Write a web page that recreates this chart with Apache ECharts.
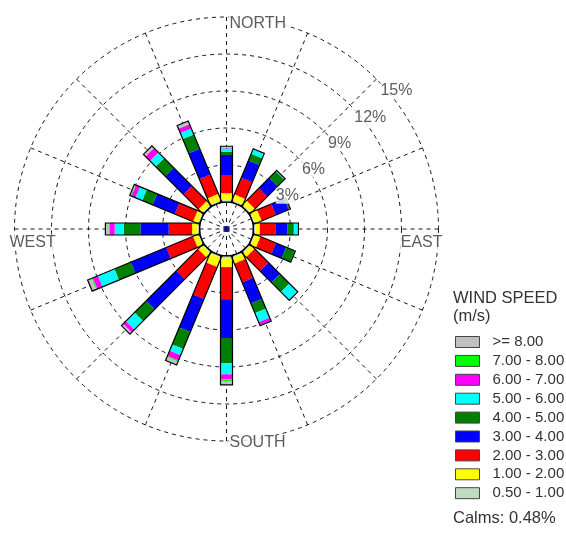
<!DOCTYPE html>
<html>
<head>
<meta charset="utf-8">
<script src="https://cdn.jsdelivr.net/npm/echarts@6/dist/echarts.min.js"></script>
<style>
  html, body { margin: 0; padding: 0; background: #fff; }
  #chart { width: 566px; height: 543px; }
</style>
</head>
<body>
<div id="chart"></div>
<script>
// Wind rose: frequency (%) of each speed class for 16 compass directions
const directions = ['N', 'NNE', 'NE', 'ENE', 'E', 'ESE', 'SE', 'SSE',
                    'S', 'SSW', 'SW', 'WSW', 'W', 'WNW', 'NW', 'NNW'];
const directionAngles = [0, 22.5, 45, 67.5, 90, 112.5, 135, 157.5,
                         180, 202.5, 225, 247.5, 270, 292.5, 315, 337.5];

const speedClasses = ['0.50 - 1.00', '1.00 - 2.00', '2.00 - 3.00', '3.00 - 4.00',
                      '4.00 - 5.00', '5.00 - 6.00', '6.00 - 7.00', '7.00 - 8.00', '>= 8.00'];
const classColors = ['#c0dcc0', '#ffff00', '#ff0000', '#0000ff',
                     '#008000', '#00ffff', '#ff00ff', '#00ff00', '#c0c0c0'];

//                    N    NNE   NE   ENE   E    ESE   SE   SSE   S    SSW   SW   WSW   W    WNW   NW   NNW
const freq_05_10 = [0.15, 0.15, 0.15, 0.15, 0.15, 0.15, 0.15, 0.15, 0.20, 0.15, 0.15, 0.15, 0.15, 0.15, 0.15, 0.15];
const freq_10_20 = [0.56, 0.50, 0.45, 0.55, 0.36, 0.45, 0.40, 0.50, 0.70, 0.80, 0.45, 0.40, 0.45, 0.40, 0.40, 0.55];
const freq_20_30 = [1.48, 1.46, 1.40, 1.25, 1.27, 1.35, 1.60, 1.65, 2.60, 2.80, 2.48, 2.35, 1.90, 1.60, 1.70, 1.70];
const freq_30_40 = [1.62, 1.52, 1.20, 1.12, 0.95, 0.90, 1.30, 1.85, 3.15, 2.90, 3.45, 3.10, 2.29, 1.95, 2.10, 2.25];
const freq_40_50 = [0.27, 0.59, 0.75, 0.10, 0.54, 0.75, 1.10, 0.85, 2.05, 1.50, 1.34, 1.45, 1.36, 0.90, 1.10, 1.26];
const freq_50_60 = [0.27, 0.38, 0.05, 0.00, 0.27, 0.00, 0.90, 0.80, 0.90, 0.55, 1.00, 1.45, 0.73, 0.60, 0.65, 0.53];
const freq_60_70 = [0.05, 0.00, 0.00, 0.00, 0.00, 0.00, 0.00, 0.25, 0.40, 0.45, 0.30, 0.45, 0.40, 0.35, 0.50, 0.36];
const freq_70_80 = [0.00, 0.00, 0.00, 0.00, 0.00, 0.00, 0.00, 0.00, 0.15, 0.10, 0.05, 0.10, 0.10, 0.05, 0.05, 0.05];
const freq_80_up = [0.12, 0.05, 0.05, 0.05, 0.10, 0.05, 0.05, 0.05, 0.30, 0.30, 0.15, 0.35, 0.25, 0.10, 0.20, 0.24];

const classValues = [freq_05_10, freq_10_20, freq_20_30, freq_30_40, freq_40_50,
                     freq_50_60, freq_60_70, freq_70_80, freq_80_up];

const ringValues = [3, 6, 9, 12, 15];
const ringLabels = ['3%', '6%', '9%', '12%', '15%'];
const compassNames = ['NORTH', 'EAST', 'SOUTH', 'WEST'];
const compassAngles = [0, 90, 180, 270];
const legendTitle = 'WIND SPEED\n(m/s)';
const calmsText = 'Calms: 0.48%';

const FONT = "'Liberation Sans', Arial, sans-serif";
const GRID = '#14142a';
const CENTER = [226.5, 229];
const BAR_HALF = 6;

// Rectangle from radius v0 to v1 along one compass direction
function radialBar(fill, stroke) {
  return function (params, api) {
    const r0 = api.value(0), r1 = api.value(1), ang = api.value(2);
    if (!(r1 > r0)) return null;
    const a = api.coord([r0, ang]);
    const b = api.coord([r1, ang]);
    const dx = b[0] - a[0], dy = b[1] - a[1];
    const len = Math.hypot(dx, dy) || 1;
    const nx = -dy / len * BAR_HALF, ny = dx / len * BAR_HALF;
    return {
      type: 'polygon',
      shape: { points: [[a[0] + nx, a[1] + ny], [b[0] + nx, b[1] + ny],
                        [b[0] - nx, b[1] - ny], [a[0] - nx, a[1] - ny]] },
      style: stroke
        ? { fill: 'none', stroke: '#000', lineWidth: 1.2 }
        : { fill: api.visual('color'), stroke: null }
    };
  };
}

// Stack the classes outward for every direction
const cumulative = directions.map(() => 0);
const classSeries = speedClasses.map((name, k) => {
  const data = directions.map((d, i) => {
    const start = cumulative[i];
    cumulative[i] += classValues[k][i];
    return [start, cumulative[i], directionAngles[i]];
  });
  return {
    name: name,
    type: 'custom',
    coordinateSystem: 'polar',
    polarIndex: 1,
    encode: { radius: [0, 1], angle: 2 },
    itemStyle: { color: classColors[k] },
    renderItem: radialBar(true, false),
    data: data,
    z: 3,
    silent: true
  };
});

const outlineSeries = {
  name: 'outline',
  type: 'custom',
  coordinateSystem: 'polar',
  polarIndex: 1,
  encode: { radius: [0, 1], angle: 2 },
  renderItem: radialBar(false, true),
  data: directions.map((d, i) => [0, cumulative[i], directionAngles[i]]),
  z: 4,
  silent: true
};

const ringLabelSeries = {
  type: 'scatter',
  coordinateSystem: 'polar',
  polarIndex: 1,
  symbolSize: 0,
  silent: true,
  z: 5,
  data: ringValues.map((v, i) => ({
    value: [v, 45],
    label: {
      show: true, formatter: ringLabels[i], position: 'right', distance: 0,
      offset: [4, 12], fontSize: 16, fontFamily: FONT, color: '#333',
      backgroundColor: '#fff', padding: 0
    }
  }))
};

const compassLayout = {
  NORTH: { position: 'right', distance: 2, offset: [0, 7] },
  EAST:  { position: 'left', distance: 0, offset: [5, 14] },
  SOUTH: { position: 'right', distance: 2, offset: [0, 2] },
  WEST:  { position: 'right', distance: 0, offset: [-6, 14] }
};
const compassSeries = {
  type: 'scatter',
  coordinateSystem: 'polar',
  polarIndex: 1,
  symbolSize: 0,
  silent: true,
  z: 5,
  data: compassNames.map((n, i) => ({
    value: [15, compassAngles[i]],
    label: Object.assign({
      show: true, formatter: n, fontSize: 16, fontFamily: FONT, color: '#333',
      backgroundColor: '#fff', padding: [0, 1]
    }, compassLayout[n])
  }))
};

const centerMark = {
  type: 'scatter',
  coordinateSystem: 'polar',
  polarIndex: 0,
  symbol: 'rect',
  symbolSize: 6,
  silent: true,
  itemStyle: { color: '#10108a' },
  data: [[0, 0]],
  z: 6
};

const dashed = { color: GRID, width: 1, type: [4, 4] };

const chart = echarts.init(document.getElementById('chart'), null, { renderer: 'canvas' });
chart.setOption({
  animation: false,
  backgroundColor: '#fff',
  title: [
    { text: legendTitle, left: 453, top: 289, padding: 0,
      textStyle: { fontSize: 16.5, fontWeight: 'normal', color: '#333', fontFamily: FONT, lineHeight: 18 } },
    { text: calmsText, left: 453, top: 510, padding: 0,
      textStyle: { fontSize: 16.5, fontWeight: 'normal', color: '#333', fontFamily: FONT } }
  ],
  legend: {
    data: speedClasses.slice().reverse(),
    orient: 'vertical',
    left: 455,
    top: 334,
    padding: 0,
    icon: 'rect',
    itemWidth: 24,
    itemHeight: 11,
    itemGap: 2.9,
    selectedMode: false,
    itemStyle: { borderColor: '#444', borderWidth: 1 },
    textStyle: { fontSize: 15, fontFamily: FONT, color: '#333', lineHeight: 16, padding: [0, 0, 0, 8] }
  },
  polar: [
    { center: CENTER, radius: [0, 27] },
    { center: CENTER, radius: [27, 212] }
  ],
  angleAxis: [
    { polarIndex: 0, type: 'value', min: 0, max: 360, interval: 22.5, startAngle: 90, clockwise: true,
      axisLine: { show: true, lineStyle: { color: '#000', width: 1.5 } },
      axisTick: { show: false }, axisLabel: { show: false },
      splitLine: { show: true, lineStyle: dashed } },
    { polarIndex: 1, type: 'value', min: 0, max: 360, interval: 22.5, startAngle: 90, clockwise: true,
      axisLine: { show: false }, axisTick: { show: false }, axisLabel: { show: false },
      splitLine: { show: true, lineStyle: dashed } }
  ],
  radiusAxis: [
    { polarIndex: 0, type: 'value', min: 0, max: 1,
      axisLine: { show: false }, axisTick: { show: false }, axisLabel: { show: false },
      splitLine: { show: false } },
    { polarIndex: 1, type: 'value', min: 0, max: 15, interval: 3,
      axisLine: { show: false }, axisTick: { show: false }, axisLabel: { show: false },
      splitLine: { show: true, lineStyle: dashed } }
  ],
  series: classSeries.concat([outlineSeries, ringLabelSeries, compassSeries, centerMark])
});
</script>
</body>
</html>
